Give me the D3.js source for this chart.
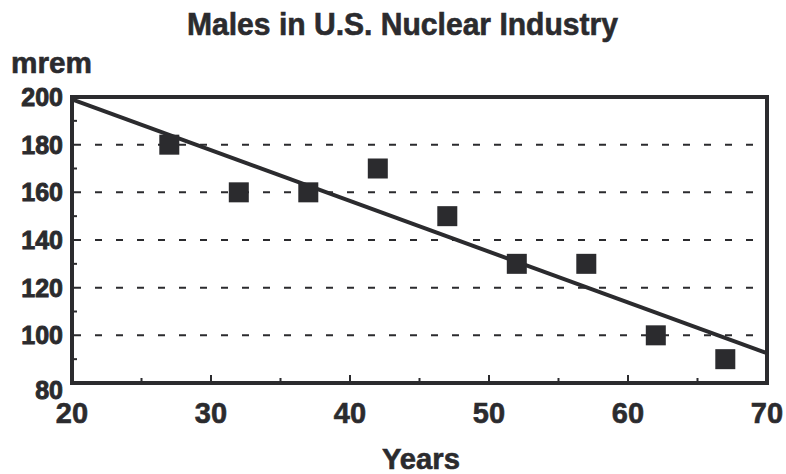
<!DOCTYPE html>
<html>
<head>
<meta charset="utf-8">
<script src="https://cdn.jsdelivr.net/npm/d3@7"></script>
<style>
  body { margin: 0; background: #fff; }
  text { font-family: "Liberation Sans", Arial, sans-serif; font-weight: bold; fill: #2b2b2e; stroke: #2b2b2e; stroke-width: 0.6px; }
</style>
</head>
<body>
<script>
// Width and height
var w = 786;
var h = 474;

// data
var years = [27, 32, 37, 42, 47, 52, 57, 62, 67];
var mrem = [180, 160, 160, 170, 150, 130, 130, 100, 90];
// fitted line endpoints
var lineYears = [20, 70];
var lineMrem = [199, 92.5];

var xTicks = [20, 30, 40, 50, 60, 70];
var yTicks = [80, 100, 120, 140, 160, 180, 200];
var xMinor = [25, 35, 45, 55, 65];
var yMinor = [90, 110, 130, 150, 170, 190];

var ink = '#2b2b2e';
var pLeft = 72, pRight = 767, pTop = 97, pBottom = 383;

var svg = d3.select('body')
    .append('svg')
    .attr('width', w)
    .attr('height', h);

var xScale = d3.scaleLinear().domain([20, 70]).range([pLeft, pRight]);
var yScale = d3.scaleLinear().domain([80, 200]).range([pBottom, pTop]);

// dashed grid lines
svg.selectAll('line.grid')
    .data(yTicks.slice(1, -1))
    .enter()
    .append('line')
    .attr('class', 'grid')
    .attr('x1', pLeft + 2)
    .attr('x2', pRight - 4)
    .attr('y1', d => yScale(d))
    .attr('y2', d => yScale(d))
    .attr('stroke', ink)
    .attr('stroke-width', 2)
    .attr('stroke-dasharray', '7,14');

// small ticks inside the frame
svg.selectAll('line.xminor')
    .data(xMinor.concat(xTicks.slice(1, -1)))
    .enter()
    .append('line')
    .attr('x1', d => xScale(d))
    .attr('x2', d => xScale(d))
    .attr('y1', pBottom)
    .attr('y2', d => xTicks.indexOf(d) >= 0 ? pBottom - 8 : pBottom - 5)
    .attr('stroke', ink)
    .attr('stroke-width', 2);

svg.selectAll('line.yminor')
    .data(yMinor)
    .enter()
    .append('line')
    .attr('x1', pLeft)
    .attr('x2', pLeft + 5)
    .attr('y1', d => yScale(d))
    .attr('y2', d => yScale(d))
    .attr('stroke', ink)
    .attr('stroke-width', 2);

// fitted line
svg.append('line')
    .attr('x1', xScale(lineYears[0]))
    .attr('y1', yScale(lineMrem[0]))
    .attr('x2', xScale(lineYears[1]))
    .attr('y2', yScale(lineMrem[1]))
    .attr('stroke', ink)
    .attr('stroke-width', 4);

// square markers
var size = 20;
svg.selectAll('rect.pt')
    .data(years)
    .enter()
    .append('rect')
    .attr('x', d => xScale(d) - size / 2)
    .attr('y', (d, i) => yScale(mrem[i]) - size / 2)
    .attr('width', size)
    .attr('height', size)
    .attr('fill', ink);

// frame
svg.append('rect')
    .attr('x', pLeft)
    .attr('y', pTop)
    .attr('width', pRight - pLeft)
    .attr('height', pBottom - pTop)
    .attr('fill', 'none')
    .attr('stroke', ink)
    .attr('stroke-width', 4);

// tick labels
svg.selectAll('text.ylab')
    .data(yTicks)
    .enter()
    .append('text')
    .text(d => d)
    .attr('x', 63)
    .attr('y', d => d == 80 ? yScale(d) + 16 : yScale(d) + 9)
    .attr('text-anchor', 'end')
    .attr('font-family', '"DejaVu Sans", sans-serif')
    .attr('font-size', '25px')
    .style('stroke-width', '0.9px');

svg.selectAll('text.xlab')
    .data(xTicks)
    .enter()
    .append('text')
    .text(d => d)
    .attr('x', d => xScale(d))
    .attr('y', 423)
    .attr('text-anchor', 'middle')
    .attr('font-size', '29px');

// titles
svg.append('text')
    .text('Males in U.S. Nuclear Industry')
    .attr('x', 187)
    .attr('y', 35)
    .attr('font-size', '31px')
    .attr('textLength', 431)
    .attr('lengthAdjust', 'spacingAndGlyphs');

svg.append('text')
    .text('mrem')
    .attr('x', 11)
    .attr('y', 73)
    .attr('font-size', '29px')
    .attr('textLength', 81)
    .attr('lengthAdjust', 'spacingAndGlyphs');

svg.append('text')
    .text('Years')
    .attr('x', 382)
    .attr('y', 469)
    .attr('font-size', '30px')
    .attr('textLength', 78)
    .attr('lengthAdjust', 'spacingAndGlyphs');
</script>
</body>
</html>
